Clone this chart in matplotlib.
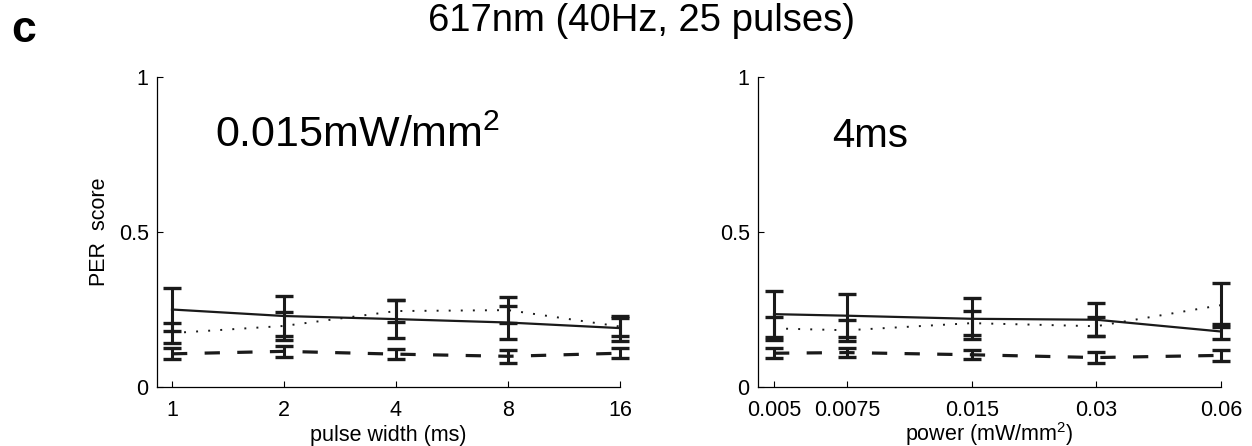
import matplotlib
matplotlib.use("Agg")
import matplotlib.pyplot as plt

plt.rcParams['font.family'] = ['Liberation Sans', 'DejaVu Sans']
plt.rcParams['mathtext.fontset'] = 'custom'
plt.rcParams['mathtext.rm'] = 'Liberation Sans'
plt.rcParams['lines.scale_dashes'] = False

# Pulse-width sweep at 0.015 mW/mm^2
pulse_width = [1, 2, 4, 8, 16]
pw_tick_labels = ['1', '2', '4', '8', '16']
pw_solid = [0.250, 0.229, 0.219, 0.208, 0.190]
pw_solid_err = [0.070, 0.066, 0.061, 0.054, 0.040]
pw_dotted = [0.174, 0.197, 0.245, 0.248, 0.195]
pw_dotted_err = [0.033, 0.046, 0.035, 0.042, 0.029]
pw_dashed = [0.107, 0.115, 0.106, 0.099, 0.109]
pw_dashed_err = [0.018, 0.017, 0.016, 0.020, 0.016]

# Power sweep at 4 ms pulses
power = [0.005, 0.0075, 0.015, 0.03, 0.06]
pow_tick_labels = ['0.005', '0.0075', '0.015', '0.03', '0.06']
pow_solid = [0.235, 0.230, 0.220, 0.217, 0.179]
pow_solid_err = [0.074, 0.069, 0.066, 0.053, 0.023]
pow_dotted = [0.189, 0.183, 0.206, 0.196, 0.264]
pow_dotted_err = [0.038, 0.033, 0.039, 0.031, 0.071]
pow_dashed = [0.109, 0.111, 0.104, 0.095, 0.102]
pow_dashed_err = [0.016, 0.015, 0.015, 0.019, 0.018]

y_ticks = [0, 0.5, 1]
y_tick_labels = ['0', '0.5', '1']

W, H = 1252, 446
fig = plt.figure(figsize=(W / 100, H / 100), dpi=100)

FS = 15.5
line_styles = [
    dict(linestyle='-', linewidth=1.6),
    dict(linestyle=(0, (1.4, 7.3)), linewidth=1.4),
    dict(linestyle=(0, (11, 12.5)), linewidth=2.3),
]


def panel(rect, x, series, xlim, tick_labels, xlabel, note, note_x, note_fs,
          log_base):
    ax = fig.add_axes(rect)
    ax.set_xscale('log', base=log_base)
    for (mean, err), st in zip(series, line_styles):
        ax.plot(x, mean, color='#1a1a1a', clip_on=False, **st)
        eb = ax.errorbar(x, mean, yerr=err, fmt='none', ecolor='#1a1a1a',
                         elinewidth=2.2, capsize=6.5, capthick=2.4)
        for art in eb.lines[1] + eb.lines[2]:
            art.set_clip_on(False)
    ax.set_xlim(*xlim)
    ax.set_ylim(0, 1)
    ax.set_xticks(x)
    ax.set_xticklabels(tick_labels)
    ax.xaxis.set_minor_locator(matplotlib.ticker.NullLocator())
    ax.set_yticks(y_ticks)
    ax.set_yticklabels(y_tick_labels)
    ax.tick_params(direction='in', length=4, width=0.8, labelsize=FS)
    ax.tick_params(axis='x', pad=9)
    ax.tick_params(axis='y', pad=6)
    for s in ('top', 'right'):
        ax.spines[s].set_visible(False)
    for s in ('left', 'bottom'):
        ax.spines[s].set_linewidth(0.9)
    ax.set_xlabel(xlabel, fontsize=FS, va='baseline')
    ax.xaxis.set_label_coords(0.5, -(441 - 387) / 310)
    ax.text(note_x, 0.774, note, transform=ax.transAxes, fontsize=note_fs,
            va='baseline', ha='left')
    ax.patch.set_alpha(0)
    return ax


ax1 = panel([157 / W, 1 - 387 / H, 463 / W, 310 / H], pulse_width,
            [(pw_solid, pw_solid_err), (pw_dotted, pw_dotted_err),
             (pw_dashed, pw_dashed_err)],
            (2 ** (-15 / 112), 16), pw_tick_labels, 'pulse width (ms)',
            r'0.015mW/mm$^\mathregular{2}$', 0.125, 31, 2)
ax1.set_ylabel('PER  score', fontsize=FS, labelpad=6)

ax2 = panel([758 / W, 1 - 387 / H, 463 / W, 310 / H], power,
            [(pow_solid, pow_solid_err), (pow_dotted, pow_dotted_err),
             (pow_dashed, pow_dashed_err)],
            (0.005 * 2 ** (-16 / 124.5), 0.06), pow_tick_labels,
            r'power (mW/mm$^\mathregular{2}$)', '4ms', 0.160, 29, 10)

fig.text(641 / W, 1 - 21 / H, '617nm (40Hz, 25 pulses)', fontsize=27.5,
         ha='center', va='center')
fig.text(11 / W, 1 - 42 / H, 'c', fontsize=32, fontweight='bold',
         ha='left', va='baseline')

fig.savefig('out.png', dpi=100)
